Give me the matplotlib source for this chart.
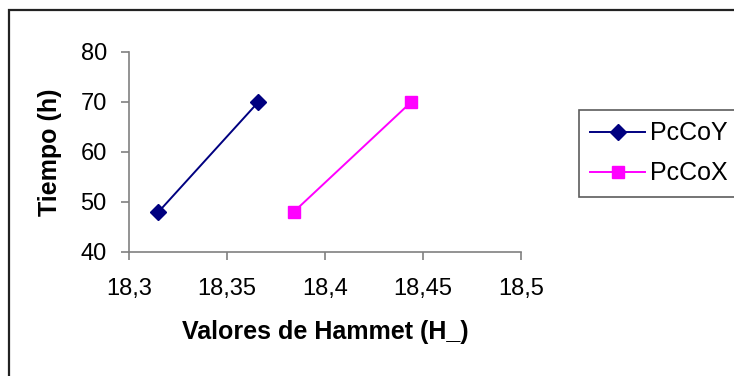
import matplotlib.pyplot as plt
from matplotlib.lines import Line2D
from matplotlib.patches import Rectangle

plt.rcParams['font.family'] = ['Liberation Sans', 'DejaVu Sans']

# Hammet acidity values vs. time for the two catalysts
time_h = [48, 70]
pccoy_h = [18.315, 18.366]
pccox_h = [18.384, 18.444]
xticks = [18.3, 18.35, 18.4, 18.45, 18.5]
yticks = [40, 50, 60, 70, 80]

fig = plt.figure(figsize=(7.34, 3.76), dpi=100)
W, H = 734, 376

# outer chart-area border (runs off the right and bottom edges)
fig.patches.append(Rectangle((9 / W, -0.1), 1.2, (H - 10) / H + 0.1,
                             transform=fig.transFigure, fill=False,
                             edgecolor='#222222', linewidth=1.6))

ax = fig.add_axes([129 / W, 1 - 252 / H, (521 - 129) / W, (252 - 52) / H])
ax.plot(pccoy_h, time_h, color='#000080', marker='D', markersize=8,
        linewidth=1.4, label='PcCoY')
ax.plot(pccox_h, time_h, color='#FF00FF', marker='s', markersize=8.5,
        linewidth=1.4, label='PcCoX')

ax.set_xlim(18.3, 18.5)
ax.set_ylim(40, 80)
ax.set_xticks(xticks)
ax.set_xticklabels([f'{v:g}'.replace('.', ',') for v in xticks])
ax.set_yticks(yticks)
for s in ('top', 'right'):
    ax.spines[s].set_visible(False)
for s in ('left', 'bottom'):
    ax.spines[s].set_color('#808080')
    ax.spines[s].set_linewidth(1.2)
ax.tick_params(axis='both', colors='#808080', labelcolor='black',
               labelsize=17, length=6, width=1.2)
ax.tick_params(axis='x', pad=13)
ax.tick_params(axis='y', pad=10)

ax.set_xlabel('Valores de Hammet (H_)', fontsize=18, fontweight='bold',
              labelpad=14)
ax.set_ylabel('Tiempo (h)', fontsize=18, fontweight='bold', labelpad=13)

handles = [Line2D([], [], color='#000080', marker='D', markersize=8, linewidth=1.4),
           Line2D([], [], color='#FF00FF', marker='s', markersize=8.5, linewidth=1.4)]
leg = fig.legend(handles, ['PcCoY', 'PcCoX'], loc='upper left',
                 bbox_to_anchor=(579 / W, 1 - 110 / H), fontsize=18,
                 frameon=True, fancybox=False, handlelength=2.2,
                 handletextpad=0.2, borderaxespad=0, borderpad=0.45,
                 labelspacing=0.65)
leg.get_frame().set_edgecolor('#333333')
leg.get_frame().set_linewidth(1.2)

fig.savefig('out.png', dpi=100)
